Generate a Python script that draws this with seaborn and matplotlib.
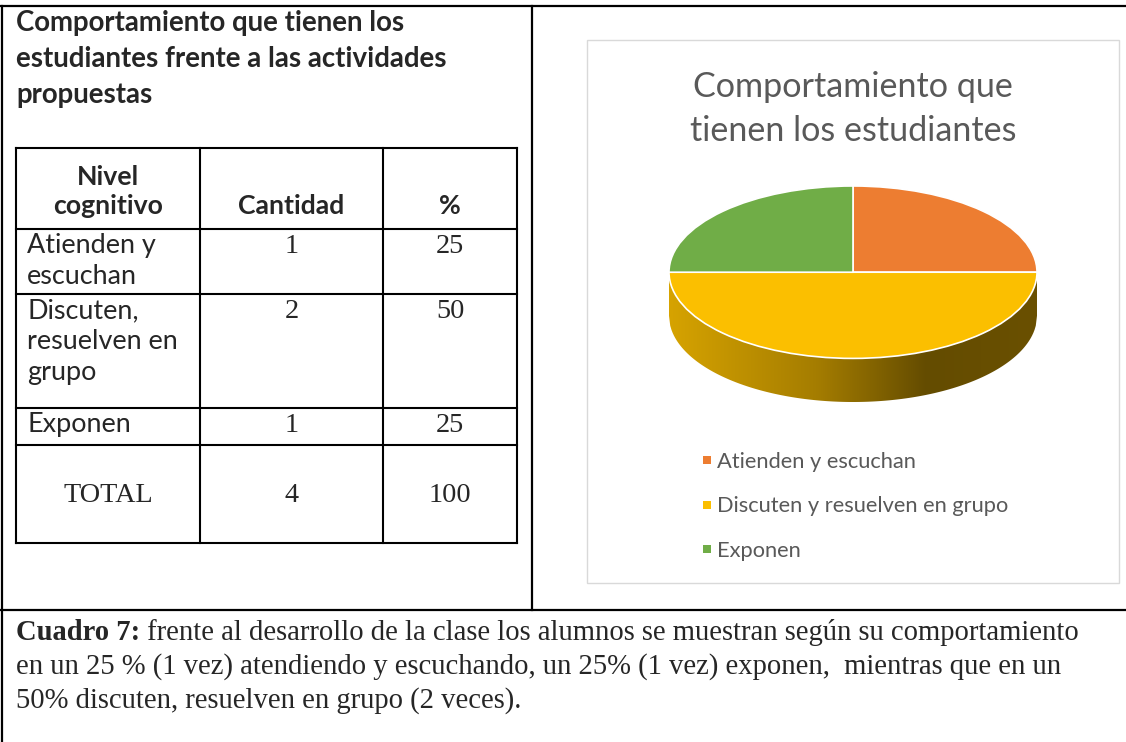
import numpy as np
import matplotlib.pyplot as plt
import seaborn as sns
from matplotlib.colors import LinearSegmentedColormap
from matplotlib.patches import Polygon, Rectangle

# Data (Cuadro 7)
row_labels = ["Atienden y\nescuchan", "Discuten,\nresuelven en\ngrupo", "Exponen"]
legend_labels = ["Atienden y escuchan", "Discuten y resuelven en grupo", "Exponen"]
cantidad = [1, 2, 1]
porcentaje = [25, 50, 25]
total_cantidad = 4
total_pct = 100
headers = ["Nivel\ncognitivo", "Cantidad", "%"]

table_title = ["Comportamiento que tienen los", "estudiantes frente a las actividades", "propuestas"]
chart_title = ["Comportamiento que", "tienen los estudiantes"]
nota_bold = "Cuadro 7:"
nota_lines = [
    " frente al desarrollo de la clase los alumnos se muestran según su comportamiento",
    "en un 25 % (1 vez) atendiendo y escuchando, un 25% (1 vez) exponen,  mientras que en un",
    "50% discuten, resuelven en grupo (2 veces).",
]

sns.set_theme(style="white")
palette = sns.color_palette(["#ED7D31", "#FBBF00", "#70AD47"])

W, H = 1126, 742
fig = plt.figure(figsize=(W / 100, H / 100), dpi=100)
page = fig.add_axes([0, 0, 1, 1])
page.set_xlim(0, W)
page.set_ylim(H, 0)
page.axis("off")
renderer = fig.canvas.get_renderer()

SANS = "Lato"
SERIF = "Liberation Serif"


def width_px(s, size, **kw):
    t = page.text(0, 0, s, fontsize=size, **kw)
    w = t.get_window_extent(renderer).width
    t.remove()
    return w


def fit(s, target, **kw):
    return 20 * target / width_px(s, 20, **kw)


def line(x0, y0, x1, y1, lw=1.5, color="black"):
    page.plot([x0, x1], [y0, y1], color=color, lw=lw, solid_capstyle="projecting")


# page frame
line(1, 5.5, W, 5.5, lw=1.6)
line(1.5, 5.5, 1.5, H, lw=1.6)
line(532, 5.5, 532, 610, lw=1.6)
line(1, 610, W, 610, lw=1.6)

# left title
s_title = fit(table_title[1], 430, family=SANS, weight="bold")
for i, t in enumerate(table_title):
    page.text(16, 31 + 36 * i, t, fontsize=s_title, family=SANS, weight="bold", va="baseline")

# table grid
cols = [16, 200, 383, 517]
rows = [148, 229, 294, 408, 445, 543]
for x in cols:
    line(x, rows[0], x, rows[-1])
for y in rows:
    line(cols[0], y, cols[-1], y)

s_head = fit("Cantidad", 107, family=SANS, weight="bold")
s_body = fit("resuelven en", 152, family=SANS)
s_num = fit("100", 42, family=SERIF)
centers = [(cols[i] + cols[i + 1]) / 2 for i in range(3)]

for i, h in enumerate(headers):
    page.text(centers[i], 214, h, fontsize=s_head, family=SANS, weight="bold",
              ha="center", va="baseline", linespacing=1.25)

for r, (lab, c, p) in enumerate(zip(row_labels, cantidad, porcentaje)):
    base = rows[r + 1] + 24
    for k, part in enumerate(lab.split("\n")):
        page.text(27, base + 31 * k, part, fontsize=s_body, family=SANS, va="baseline")
    page.text(centers[1], base, str(c), fontsize=s_num, family=SERIF, ha="center", va="baseline")
    page.text(centers[2], base, str(p), fontsize=s_num, family=SERIF, ha="center", va="baseline")

ytot = (rows[4] + rows[5]) / 2 + 8
page.text(centers[0], ytot, "TOTAL", fontsize=s_num, family=SERIF, ha="center", va="baseline")
page.text(centers[1], ytot, str(total_cantidad), fontsize=s_num, family=SERIF, ha="center", va="baseline")
page.text(centers[2], ytot, str(total_pct), fontsize=s_num, family=SERIF, ha="center", va="baseline")

# chart area box
page.add_patch(Rectangle((587, 40), 532, 543, facecolor="white", edgecolor="#d9d9d9", lw=1))
grey = "#595959"
s_ct = fit(chart_title[0], 321, family=SANS)
for i, t in enumerate(chart_title):
    page.text(853, 97 + 44 * i, t, fontsize=s_ct, family=SANS, color=grey, ha="center", va="baseline")

# pie with a 3d-looking rim
cx0, cx1, ytop, ybot = 669, 1037, 186, 402
depth = 44 / 87
pie_ax = fig.add_axes([cx0 / W, 1 - ybot / H, (cx1 - cx0) / W, (ybot - ytop) / H])
wedges, _ = pie_ax.pie(cantidad, colors=palette, startangle=90, counterclock=False,
                       wedgeprops=dict(edgecolor="white", linewidth=1.2))
for w in wedges:
    w.set_clip_on(False)
xs = np.linspace(-1, 1, 300)
rim = -np.sqrt(1 - xs ** 2)
wall = Polygon(np.column_stack([np.r_[xs, xs[::-1]], np.r_[rim, rim[::-1] - depth]]),
               closed=True, facecolor="none", edgecolor="none")
pie_ax.add_patch(wall)
wall_cmap = LinearSegmentedColormap.from_list(
    "wall", [(0, "#d6a300"), (0.4, "#a57d00"), (0.7, "#644c00"), (1, "#6a5000")])
im = pie_ax.imshow(np.linspace(0, 1, 256)[None, :], extent=[-1, 1, -1 - depth, 0],
                   aspect="auto", cmap=wall_cmap, zorder=0)
im.set_clip_path(wall)
pie_ax.set_aspect("auto")
pie_ax.set_xlim(-1, 1)
pie_ax.set_ylim(-1 - depth, 1)
pie_ax.axis("off")

# legend
s_leg = fit(legend_labels[1], 293, family=SANS)
for i, lab in enumerate(legend_labels):
    yc = 460 + 44.5 * i
    page.add_patch(Rectangle((703, yc - 4), 8, 8, facecolor=palette[i], edgecolor="none"))
    page.text(717, yc, lab, fontsize=s_leg, family=SANS, color=grey, va="center_baseline")

# note under the table
s_note = 20 * 1062 / (width_px(nota_bold, 20, family=SERIF, weight="bold")
                      + width_px(nota_lines[0], 20, family=SERIF))
wb = width_px(nota_bold, s_note, family=SERIF, weight="bold")
page.text(16, 640, nota_bold, fontsize=s_note, family=SERIF, weight="bold", va="baseline")
page.text(16 + wb, 640, nota_lines[0], fontsize=s_note, family=SERIF, va="baseline")
for i, t in enumerate(nota_lines[1:]):
    page.text(16, 674 + 34 * i, t, fontsize=s_note, family=SERIF, va="baseline")

fig.savefig("out.png", dpi=100)
